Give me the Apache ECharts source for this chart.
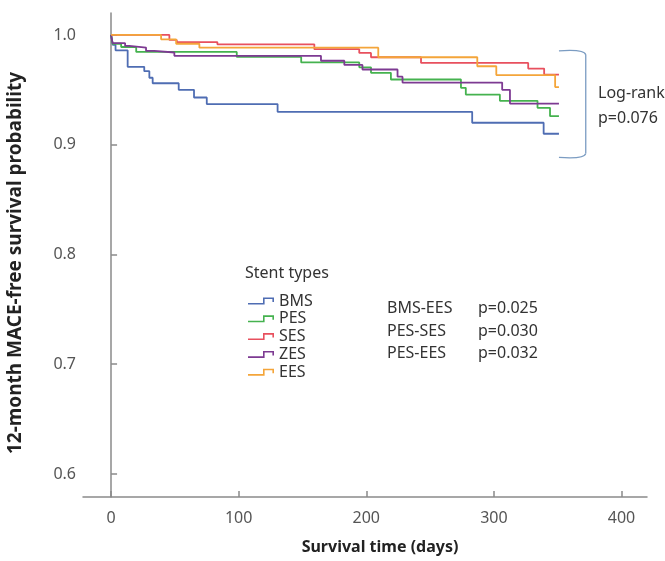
<!DOCTYPE html>
<html lang="en">
<head>
    <meta charset="UTF-8">
    <title>12-month MACE-free survival by stent type</title>
    <script src="https://cdn.jsdelivr.net/npm/echarts@6/dist/echarts.min.js"></script>
    <style type="text/css">
        body { margin: 0; background: #fff; }
        #main { width: 665px; height: 561px; }
    </style>
</head>
<body>
<div id="main"></div>
<script type="text/javascript">
    // Kaplan-Meier steps: day of each drop and survival after it
    var daysBMS = [0, 1.3, 3.5, 13, 26, 30, 32.6, 53, 65, 75, 130.5, 283, 339, 351];
    var survBMS = [1.0, 0.991, 0.986, 0.971, 0.967, 0.961, 0.956, 0.950, 0.943, 0.937, 0.930, 0.920, 0.910, 0.910];

    var daysPES = [0, 1.2, 7.9, 19.7, 98.5, 149, 194.5, 203.7, 219.3, 274.2, 278, 304.7, 334.2, 344, 351];
    var survPES = [1.0, 0.992, 0.989, 0.9845, 0.980, 0.975, 0.9705, 0.9655, 0.9594, 0.9518, 0.9457, 0.940, 0.9336, 0.926, 0.926];

    var daysSES = [0, 45.7, 51.5, 83.3, 159.3, 194.5, 203.7, 242.9, 326.9, 339.4, 351];
    var survSES = [1.0, 0.9955, 0.9935, 0.9915, 0.987, 0.9836, 0.9797, 0.9745, 0.9694, 0.9639, 0.9639];

    var daysZES = [0, 1.2, 11, 14.3, 27.4, 33.9, 49.6, 164.5, 182.8, 197, 224.5, 228.4, 306.5, 312.6, 351];
    var survZES = [1.0, 0.9925, 0.990, 0.9885, 0.9855, 0.984, 0.981, 0.9765, 0.9727, 0.9685, 0.962, 0.9566, 0.950, 0.9375, 0.9375];

    var daysEES = [0, 39.2, 51, 69.2, 209.4, 287, 301.9, 348, 351];
    var survEES = [1.0, 0.996, 0.992, 0.9884, 0.9797, 0.9715, 0.9634, 0.9525, 0.9525];

    var xTicks = [0, 100, 200, 300, 400];
    var yTicks = [0.6, 0.7, 0.8, 0.9, 1.0];

    var pairNames = ['BMS-EES', 'PES-SES', 'PES-EES'];
    var pairP = ['p=0.025', 'p=0.030', 'p=0.032'];

    var fontName = 'Noto Sans';
    // step shaped legend glyph
    var stepIcon = 'path://M0,5.4 L15,5.4 L15,0 L26,0 L26,4.5 L24.4,4.5 L24.4,1.6 L16.6,1.6 L16.6,7 L0,7 Z';

    function km(name, days, surv, color) {
        return {
            name: name,
            type: 'line',
            step: 'end',
            symbol: 'none',
            data: days.map(function (d, i) { return [d, surv[i]]; }),
            lineStyle: { color: color, width: 1.8 },
            itemStyle: { color: color, borderWidth: 0 }
        };
    }

    var myChart = echarts.init(document.getElementById('main'));

    var option = {
        animation: false,
        grid: { left: 83, right: 18, top: 13, bottom: 64, outerBoundsMode: 'none' },
        legend: {
            orient: 'vertical',
            left: 243,
            top: 288,
            icon: stepIcon,
            itemWidth: 26,
            itemHeight: 7,
            itemGap: 1.8,
            textStyle: { fontFamily: fontName, fontSize: 16, color: '#333', lineHeight: 15 },
            data: ['BMS', 'PES', 'SES', 'ZES', 'EES']
        },
        xAxis: {
            type: 'value',
            min: -22,
            max: 420,
            name: 'Survival time (days)',
            nameLocation: 'middle',
            nameGap: 42,
            nameTextStyle: { fontFamily: fontName, fontSize: 16, fontWeight: 'bold', color: '#222', padding: [0, 0, 0, 30] },
            axisLine: { lineStyle: { color: '#8a8a8a', width: 1.5 } },
            axisTick: { inside: true, length: 6, customValues: xTicks, lineStyle: { color: '#8a8a8a', width: 1.5 } },
            axisLabel: { customValues: xTicks, margin: 13, fontFamily: fontName, fontSize: 16, color: '#555' },
            splitLine: { show: false }
        },
        yAxis: {
            type: 'value',
            min: 0.579,
            max: 1.020,
            name: '12-month MACE-free survival probability',
            nameLocation: 'middle',
            nameGap: 58,
            nameTextStyle: { fontFamily: fontName, fontSize: 19, fontWeight: 'bold', color: '#222', padding: [0, 16, 0, 0] },
            axisLine: { show: true, lineStyle: { color: '#8a8a8a', width: 1.5 } },
            axisTick: { inside: true, length: 6, customValues: yTicks, lineStyle: { color: '#8a8a8a', width: 1.5 } },
            axisLabel: {
                customValues: yTicks, margin: 7, fontFamily: fontName, fontSize: 16, color: '#555',
                formatter: function (v) { return v.toFixed(1); }
            },
            splitLine: { show: false }
        },
        series: [
            km('BMS', daysBMS, survBMS, '#4f6db3'),
            km('PES', daysPES, survPES, '#45b24f'),
            km('SES', daysSES, survSES, '#e8505e'),
            km('ZES', daysZES, survZES, '#7d3a92'),
            km('EES', daysEES, survEES, '#f4a53a')
        ]
    };

    myChart.setOption(option);

    // annotations placed from data coordinates
    var bTop = myChart.convertToPixel('grid', [351, 0.9855]);
    var bBot = myChart.convertToPixel('grid', [351, 0.8885]);
    var bx = myChart.convertToPixel('grid', [372, 1])[0];
    var x0 = bTop[0];
    var bStyle = { stroke: '#7b9cc2', lineWidth: 1.3, fill: null };

    var txt = { fontFamily: fontName, fontSize: 16, fill: '#333' };
    var graphics = [
        { type: 'bezierCurve', shape: { x1: x0, y1: bTop[1], cpx1: x0 + 14, cpy1: bTop[1] - 1, cpx2: bx - 1, cpy2: bTop[1] - 1, x2: bx, y2: bTop[1] + 4 }, style: bStyle },
        { type: 'line', shape: { x1: bx, y1: bTop[1] + 4, x2: bx, y2: bBot[1] - 4 }, style: bStyle },
        { type: 'bezierCurve', shape: { x1: bx, y1: bBot[1] - 4, cpx1: bx - 1, cpy1: bBot[1] + 1, cpx2: x0 + 14, cpy2: bBot[1] + 1, x2: x0, y2: bBot[1] }, style: bStyle },
        { type: 'text', left: 598, top: 85, style: Object.assign({ text: 'Log-rank' }, txt) },
        { type: 'text', left: 598, top: 110, style: Object.assign({ text: 'p=0.076' }, txt) },
        { type: 'text', left: 245, top: 265, style: Object.assign({ text: 'Stent types' }, txt) }
    ];
    var rowY = [300, 323, 345];
    for (var i = 0; i < pairNames.length; i++) {
        graphics.push({ type: 'text', left: 387, top: rowY[i], style: Object.assign({ text: pairNames[i] }, txt) });
        graphics.push({ type: 'text', left: 478, top: rowY[i], style: Object.assign({ text: pairP[i] }, txt) });
    }
    myChart.setOption({ graphic: graphics });
</script>
</body>
</html>
